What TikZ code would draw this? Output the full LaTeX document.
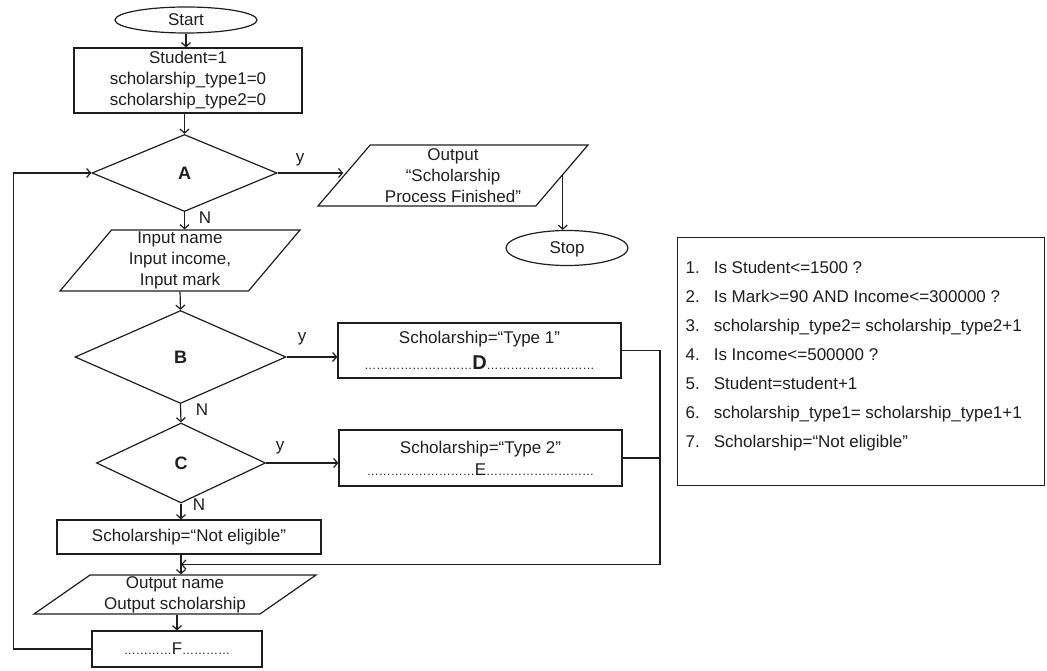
\documentclass[tikz,border=0pt]{standalone}
\usepackage{fontspec}
\setmainfont{Liberation Sans}
\usepackage{tikz}
\usetikzlibrary{arrows,arrows.meta,calc,positioning,shapes}
\definecolor{my_black}{RGB}{30, 30, 30}
\tikzset{
  flow_n/.style = {align=center, inner sep=1pt, draw=my_black, text=my_black, line width=1.2pt,
  text centered, font=\fontsize{17}{21}\selectfont},
  flow_term/.style = {flow_n, ellipse, inner sep=0pt, text height=12pt, text depth=0pt},
  flow_proc/.style = {flow_n, rectangle},
  flow_io/.style = {flow_n, trapezium, trapezium stretches body, inner sep=0pt},
  flow_dec/.style = {flow_n, diamond, inner sep=0pt, font=\fontsize{18}{21}\selectfont\bfseries},
  flow_lbl/.style = {inner sep=0pt, text=my_black, font=\fontsize{17}{21}\selectfont}
}
\newcommand{\dotrun}[1]{{\fontsize{12}{12}\selectfont\foreach \k in {1,...,#1}{…}}}

\begin{document}
\begin{tikzpicture}[x=1pt,y=-1pt,->,>={Straight Barb[length=4pt,width=9pt]},line width=1.2pt,draw=my_black]
	\useasboundingbox (0,0) rectangle (1047,671);
	% main column
	\node [flow_term, minimum width=142, minimum height=26] (start) at (186,20) {Start};
	\node [flow_proc, minimum width=228, minimum height=65] (init) at (188,80.5)
	    {Student=1\\scholarship\_type1=0\\scholarship\_type2=0};
	\node [flow_dec, minimum width=185, minimum height=77] (A) at (184.5,173) {A};
	\node [flow_io, trapezium left angle=46, trapezium right angle=134,
	    minimum width=270, minimum height=61] (done) at (453,175.5)
	    {Output\\“Scholarship\\Process Finished”};
	\node [flow_term, minimum width=122, minimum height=35] (stop) at (567,248) {Stop};
	\node [flow_io, trapezium left angle=48, trapezium right angle=132,
	    minimum width=240, minimum height=61] (input) at (180,260.5)
	    {Input name\\Input income,\\Input mark};
	\node [flow_dec, minimum width=211, minimum height=93] (B) at (180.5,357) {B};
	\node [flow_dec, minimum width=169, minimum height=80] (C) at (181,463) {C};
	\node [flow_proc, minimum width=283, minimum height=55] (typeone) at (479.5,350.5)
	    {Scholarship=“Type 1”\\[5pt]\dotrun{9}{\fontsize{20}{20}\selectfont\bfseries D}\dotrun{9}};
	\node [flow_proc, minimum width=283, minimum height=56] (typetwo) at (480.5,458)
	    {Scholarship=“Type 2”\\[1pt]\dotrun{9}E\dotrun{9}};
	\node [flow_proc, minimum width=264, minimum height=34] (noelig) at (189,537)
	    {Scholarship=“Not eligible”};
	\node [flow_io, trapezium left angle=33, trapezium right angle=147,
	    minimum width=282, minimum height=39] (output) at (175,594.5)
	    {Output name\\Output scholarship};
	\node [flow_proc, minimum width=170, minimum height=36] (next) at (177,649)
	    {\dotrun{4}F\dotrun{4}};
	% branch labels
	\node [flow_lbl] (ya) at (300,160) {y};
	\node [flow_lbl] (na) at (205,218) {N};
	\node [flow_lbl] (yb) at (302,339) {y};
	\node [flow_lbl] (nb) at (202,410) {N};
	\node [flow_lbl] (yc) at (280,448) {y};
	\node [flow_lbl] (nc) at (199,505) {N};
	% legend
	\node [draw=my_black, rectangle, minimum width=367, minimum height=248, anchor=north west,
	    inner sep=0pt] (legend) at (677,237) {};
	\node [flow_lbl, anchor=west] (items) at (685,354.5) {\renewcommand{\arraystretch}{1.38}%
	    \begin{tabular}{@{}l@{\hspace{14pt}}l@{}}
	    1. & Is Student<=1500 ?\\
	    2. & Is Mark>=90 AND Income<=300000 ?\\
	    3. & scholarship\_type2= scholarship\_type2+1\\
	    4. & Is Income<=500000 ?\\
	    5. & Student=student+1\\
	    6. & scholarship\_type1= scholarship\_type1+1\\
	    7. & Scholarship=“Not eligible”
	    \end{tabular}};
	% connectors
	\coordinate (rail) at (660,0);
	\coordinate (merge) at ($(C.south |- noelig.south)!0.5!(C.south |- output.north)$);
	\draw (start.south) -- (start.south |- init.north);
	\draw (init.south -| A.north) -- (A.north);
	\draw (A.east) -- (A.east -| done.west);
	\draw (done.east) -- (done.east |- stop.north);
	\draw (A.south) -- (A.south |- input.north);
	\draw (input.south) -- (B.north);
	\draw (B.east) -- (B.east -| typeone.west);
	\draw (B.south) -- (C.north);
	\draw (C.east) -- (C.east -| typetwo.west);
	\draw (C.south) -- (C.south |- noelig.north);
	\draw (C.south |- noelig.south) -- (C.south |- output.north);
	\draw (typeone.east) -- (typeone.east -| rail) |- (merge);
	\draw [-] (typetwo.east) -- (typetwo.east -| rail);
	\draw (output.south -| next.north) -- (next.north);
	\draw (next.west) -- ++(-78,0) |- (A.west);
\end{tikzpicture}
\end{document}
